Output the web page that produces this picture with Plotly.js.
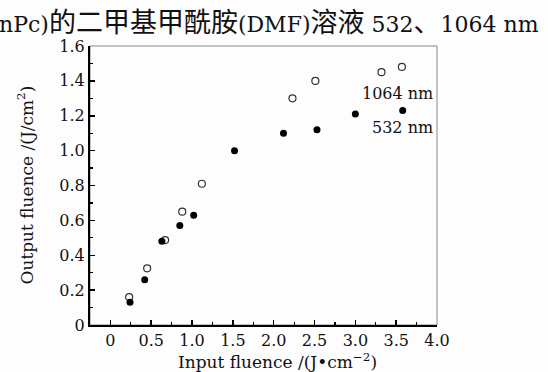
<!DOCTYPE html>
<html><head><meta charset="utf-8">
<script src="https://cdn.plot.ly/plotly-3.0.1.min.js"></script>
<style>html,body{margin:0;padding:0;background:#fff}#c{width:548px;height:372px}</style>
</head><body><div id="c"></div>
<script>
const x532 = [0.24, 0.42, 0.63, 0.85, 1.02, 1.52, 2.12, 2.53, 3.00, 3.58];
const y532 = [0.13, 0.26, 0.48, 0.57, 0.63, 1.00, 1.10, 1.12, 1.21, 1.23];
const x1064 = [0.23, 0.45, 0.67, 0.88, 1.12, 2.23, 2.51, 3.32, 3.57];
const y1064 = [0.16, 0.325, 0.487, 0.65, 0.81, 1.30, 1.40, 1.45, 1.48];
const xTicks = [0, 0.5, 1.0, 1.5, 2.0, 2.5, 3.0, 3.5, 4.0];
const xTickText = ['0', '0.5', '1.0', '1.5', '2.0', '2.5', '3.0', '3.5', '4.0'];
const yTicks = [0, 0.2, 0.4, 0.6, 0.8, 1.0, 1.2, 1.4, 1.6];
const yTickText = ['0', '0.2', '0.4', '0.6', '0.8', '1.0', '1.2', '1.4', '1.6'];
const seriesNames = ['532 nm', '1064 nm'];
const xTitle = 'Input fluence /(J•cm<sup>−2</sup>)';
const yTitle = 'Output fluence /(J/cm<sup>2</sup>)';
// caption pieces: [text, isLatin]
const captionParts = [['nPc)', true], ['的二甲基甲酰胺', false], ['(DMF)', true], ['溶液', false], [' 532', true], ['、', false], ['1064 nm', true]];

const F = 'DejaVu Serif, Liberation Serif, serif';
const FC = 'DejaVu Serif, Noto Sans CJK SC, serif';
const captionHtml = captionParts.map(p => p[1]
  ? '<span style="font-size:22px">' + p[0] + '</span>'
  : p[0]).join('');

const traces = [
  {x: x1064, y: y1064, mode: 'markers', type: 'scatter', name: seriesNames[1],
   marker: {symbol: 'circle-open', size: 7, color: '#333', line: {width: 1.2, color: '#333'}}},
  {x: x532, y: y532, mode: 'markers', type: 'scatter', name: seriesNames[0],
   marker: {symbol: 'circle', size: 7, color: '#000'}}
];

const layout = {
  width: 548, height: 372,
  margin: {l: 90, r: 111, t: 46, b: 47},
  paper_bgcolor: '#fdfdfd', plot_bgcolor: '#fdfdfd',
  showlegend: false,
  font: {family: F, color: '#111', size: 16},
  xaxis: {
    range: [-0.25, 4.0], tickvals: xTicks, ticktext: xTickText,
    ticks: 'inside', ticklen: 5, tickwidth: 1.5, tickcolor: '#000',
    minor: {dtick: 0.25, tick0: 0, ticks: 'inside', ticklen: 3, tickwidth: 1.2, tickcolor: '#000'},
    showline: true, linecolor: '#000', linewidth: 2, showgrid: false, zeroline: false,
    tickfont: {family: F, size: 16, color: '#111'}
  },
  yaxis: {
    range: [0, 1.6], tickvals: yTicks, ticktext: yTickText,
    ticks: 'inside', ticklen: 5, tickwidth: 1.5, tickcolor: '#000',
    minor: {dtick: 0.1, tick0: 0, ticks: 'inside', ticklen: 3, tickwidth: 1.2, tickcolor: '#000'},
    showline: true, linecolor: '#000', linewidth: 2, showgrid: false, zeroline: false,
    tickfont: {family: F, size: 16, color: '#111'}
  },
  shapes: [
    {type: 'rect', xref: 'paper', yref: 'paper', x0: 0, x1: 1, y0: 0, y1: 1,
     line: {color: '#888', width: 1}, layer: 'below'}
  ],
  annotations: [
    {text: captionHtml, xref: 'paper', yref: 'paper', x: 1.3, y: 1.0, xanchor: 'right', yanchor: 'middle',
     yshift: 24, showarrow: false, font: {family: FC, size: 27, color: '#111'}},
    {text: xTitle, xref: 'paper', yref: 'paper', x: 0.541, y: 0, xanchor: 'center', yanchor: 'top',
     yshift: -23, showarrow: false, font: {family: F, size: 17, color: '#111'}},
    {text: yTitle, xref: 'paper', yref: 'paper', x: 0, y: 0.5, xanchor: 'center', yanchor: 'middle',
     xshift: -65, textangle: -90, showarrow: false, font: {family: F, size: 17, color: '#111'}},
    {text: seriesNames[1], xref: 'x', yref: 'y', x: 3.97, y: 1.33, xanchor: 'right', yanchor: 'middle',
     showarrow: false, font: {family: F, size: 16, color: '#111'}},
    {text: seriesNames[0], xref: 'x', yref: 'y', x: 3.97, y: 1.13, xanchor: 'right', yanchor: 'middle',
     showarrow: false, font: {family: F, size: 16, color: '#111'}}
  ]
};
Plotly.newPlot('c', traces, layout, {displayModeBar: false, staticPlot: true});
</script></body></html>
